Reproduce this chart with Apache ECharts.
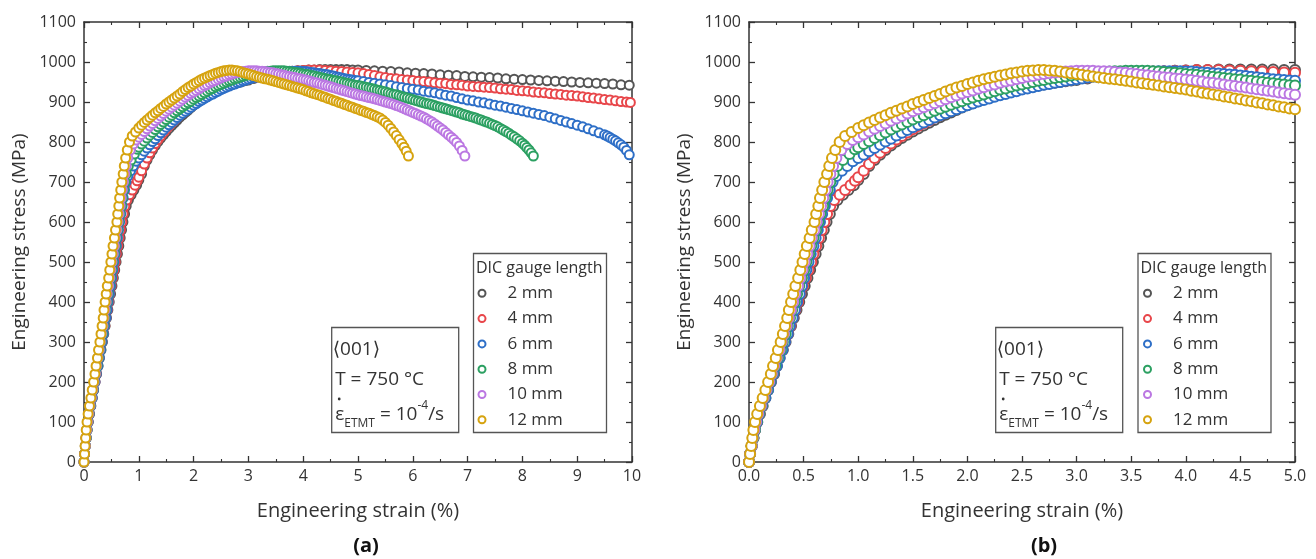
<!DOCTYPE html>
<html><head><meta charset="utf-8">
<script src="https://cdn.jsdelivr.net/npm/echarts@6/dist/echarts.min.js"></script>
<style>html,body{margin:0;padding:0;background:#fff}#c{width:1316px;height:559px}</style>
</head><body><div id="c"></div>
<script>
// ---------- DATA ----------
const seriesNames = ['2 mm', '4 mm', '6 mm', '8 mm', '10 mm', '12 mm'];
const xTickLabelsA = ['0','1','2','3','4','5','6','7','8','9','10'];
const xTickLabelsB = ['0.0','0.5','1.0','1.5','2.0','2.5','3.0','3.5','4.0','4.5','5.0'];
const yTickLabels = ['0','100','200','300','400','500','600','700','800','900','1000','1100'];

// [engineering strain (%), engineering stress (MPa)]
const gauge2mm = [[0,0],[0.01,20],[0.025,40],[0.04,60],[0.055,80],[0.075,100],[0.1,120],[0.125,140],[0.15,160],[0.175,180],[0.2,200],[0.23,220],[0.255,240],[0.28,260],[0.31,280],[0.335,300],[0.36,320],[0.385,340],[0.41,360],[0.435,380],[0.46,400],[0.485,420],[0.51,440],[0.535,460],[0.56,480],[0.585,500],[0.61,520],[0.635,540],[0.66,560],[0.685,580],[0.71,600],[0.74,620],[0.77,640],[0.81,655],[0.86,668],[0.91,680],[0.96,692],
[1.0,705],[1.05,720],[1.1,740],[1.15,755],[1.2,768],[1.25,780],[1.3,791],[1.35,801],[1.4,810],[1.45,818],[1.5,826],[1.55,834],[1.6,841],[1.65,848],[1.7,855],[1.75,862],[1.8,868],[1.85,874],[1.9,880],[1.95,886],[2.0,892],[2.05,897],[2.1,902],[2.15,907],[2.2,911],[2.25,915],[2.3,919],[2.35,923],[2.4,927],[2.45,930],[2.5,933],[2.55,936],[2.6,939],[2.65,941],[2.7,944],[2.75,946],[2.8,948],[2.85,950],[2.9,952],[2.95,954],[3.0,955],[3.1,959],[3.2,962],[3.3,965],[3.4,968],[3.5,971],[3.6,973],[3.7,975],[3.8,976],[3.9,978],[4.0,979],[4.1,980],[4.2,980],[4.3,981],[4.4,981],[4.5,981],[4.6,981],[4.7,981],[4.8,981],[4.9,980],[5.0,980],[5.15,979],[5.3,978],[5.45,977],[5.6,976],[5.75,975],[5.9,973],[6.05,972],[6.2,971],[6.35,970],[6.5,968],[6.65,967],[6.8,966],[6.95,964],[7.1,963],[7.25,962],[7.4,961],[7.55,960],[7.7,958],[7.85,957],[8.0,956],[8.15,955],[8.3,954],[8.45,953],[8.6,952],[8.75,951],[8.9,950],[9.05,949],[9.2,948],[9.35,947],[9.5,946],[9.65,945],[9.8,943],[9.95,942]];

const gauge4mm = [[0,0],[0.01,20],[0.025,40],[0.04,60],[0.055,80],[0.075,100],[0.095,120],[0.12,140],[0.145,160],[0.17,180],[0.2,200],[0.225,220],[0.25,240],[0.275,260],[0.3,280],[0.33,300],[0.355,320],[0.38,340],[0.4,360],[0.425,380],[0.45,400],[0.47,420],[0.495,440],[0.52,460],[0.545,480],[0.57,500],[0.59,520],[0.615,540],[0.64,560],[0.665,580],[0.69,600],[0.715,620],[0.745,640],[0.78,655],[0.83,668],[0.88,680],[0.93,692],[0.97,703],
[1.0,712],[1.05,728],[1.1,745],[1.15,760],[1.2,773],[1.25,785],[1.3,796],[1.35,806],[1.4,815],[1.45,824],[1.5,832],[1.55,840],[1.6,847],[1.65,854],[1.7,861],[1.75,867],[1.8,873],[1.85,879],[1.9,885],[1.95,890],[2.0,895],[2.05,900],[2.1,905],[2.15,909],[2.2,913],[2.25,917],[2.3,921],[2.35,925],[2.4,928],[2.45,931],[2.5,935],[2.55,938],[2.6,940],[2.65,943],[2.7,945],[2.75,948],[2.8,950],[2.85,952],[2.9,954],[2.95,956],[3.0,958],[3.1,961],[3.2,964],[3.3,967],[3.4,970],[3.5,972],[3.6,974],[3.7,976],[3.8,977],[3.9,978],[4.0,979],[4.1,980],[4.2,980],[4.3,980],[4.4,979],[4.5,978],[4.6,977],[4.7,976],[4.8,975],[4.9,974],[5.0,973],[5.1,971],[5.2,969],[5.3,966],[5.4,963],[5.5,961],[5.6,959],[5.7,958],[5.8,956],[5.9,955],[6.0,954],[6.1,952],[6.2,951],[6.3,950],[6.4,948],[6.5,947],[6.6,946],[6.7,944],[6.8,943],[6.9,942],[7.0,940],[7.1,939],[7.2,938],[7.3,937],[7.4,936],[7.5,935],[7.6,933],[7.7,932],[7.8,931],[7.9,929],[8.0,928],[8.1,927],[8.2,925],[8.3,924],[8.4,923],[8.5,921],[8.6,920],[8.7,919],[8.8,917],[8.9,916],[9.0,915],[9.1,913],[9.2,911],[9.3,910],[9.4,908],[9.5,906],[9.6,905],[9.7,903],[9.8,901],[9.9,900],[9.97,899]];

const gauge6mm = [[0,0],[0.01,20],[0.025,40],[0.04,60],[0.055,80],[0.075,100],[0.095,120],[0.12,140],[0.15,160],[0.175,180],[0.2,200],[0.225,220],[0.255,240],[0.28,260],[0.305,280],[0.33,300],[0.355,320],[0.375,340],[0.4,360],[0.42,380],[0.44,400],[0.465,420],[0.485,440],[0.505,460],[0.525,480],[0.545,500],[0.565,520],[0.59,540],[0.61,560],[0.63,580],[0.65,600],[0.67,620],[0.695,640],[0.715,660],[0.74,680],[0.765,700],[0.8,715],[0.85,728],[0.9,740],[0.95,752],
[1.0,760],[1.05,768],[1.1,777],[1.15,785],[1.2,793],[1.25,801],[1.3,808],[1.35,816],[1.4,823],[1.45,830],[1.5,837],[1.55,843],[1.6,849],[1.65,855],[1.7,861],[1.75,867],[1.8,872],[1.85,877],[1.9,882],[1.95,887],[2.0,892],[2.05,896],[2.1,901],[2.15,905],[2.2,909],[2.25,913],[2.3,917],[2.35,920],[2.4,924],[2.45,927],[2.5,931],[2.55,934],[2.6,937],[2.65,940],[2.7,943],[2.75,945],[2.8,948],[2.85,950],[2.9,953],[2.95,955],[3.0,957],[3.05,959],[3.1,961],[3.15,963],[3.2,965],[3.25,967],[3.3,968],[3.35,970],[3.4,971],[3.45,972],[3.5,973],[3.55,974],[3.6,975],[3.65,976],[3.7,976],[3.75,977],[3.8,977],[3.85,977],[3.9,977],[3.95,977],[4.0,976],[4.05,976],[4.1,975],[4.15,974],[4.2,973],[4.25,972],[4.3,971],[4.35,970],[4.4,969],[4.45,968],[4.5,966],[4.55,965],[4.6,963],[4.65,962],[4.7,960],[4.75,959],[4.8,957],[4.85,956],[4.9,955],[4.95,954],[5.0,953],[5.1,951],[5.2,949],[5.3,947],[5.4,945],[5.5,943],[5.6,941],[5.7,938],[5.8,936],[5.9,934],[6.0,932],[6.1,930],[6.2,927],[6.3,925],[6.4,923],[6.5,920],[6.6,917],[6.7,915],[6.8,911],[6.9,908],[7.0,905],[7.1,903],[7.2,900],[7.3,898],[7.4,895],[7.5,892],[7.6,890],[7.7,887],[7.8,884],[7.9,881],[8.0,878],[8.1,875],[8.2,872],[8.3,869],[8.4,866],[8.5,862],[8.6,858],[8.7,854],[8.8,850],[8.9,846],[9.0,842],[9.1,838],[9.2,833],[9.3,828],[9.4,823],[9.5,818],[9.55,815],[9.6,811],[9.65,807],[9.7,803],[9.75,798],[9.8,793],[9.85,787],[9.9,779],[9.95,768]];

const gauge8mm = [[0,0],[0.01,20],[0.025,40],[0.04,60],[0.055,80],[0.07,100],[0.09,120],[0.115,140],[0.14,160],[0.165,180],[0.19,200],[0.215,220],[0.24,240],[0.265,260],[0.29,280],[0.31,300],[0.335,320],[0.355,340],[0.375,360],[0.395,380],[0.42,400],[0.44,420],[0.46,440],[0.485,460],[0.505,480],[0.525,500],[0.55,520],[0.57,540],[0.59,560],[0.615,580],[0.635,600],[0.655,620],[0.68,640],[0.7,660],[0.72,680],[0.745,700],[0.775,720],[0.81,740],[0.86,755],[0.92,770],[0.97,782],
[1.0,787],[1.05,795],[1.1,802],[1.15,810],[1.2,817],[1.25,824],[1.3,831],[1.35,838],[1.4,844],[1.45,850],[1.5,856],[1.55,862],[1.6,867],[1.65,873],[1.7,878],[1.75,883],[1.8,888],[1.85,893],[1.9,898],[1.95,902],[2.0,907],[2.05,911],[2.1,915],[2.15,919],[2.2,923],[2.25,927],[2.3,931],[2.35,934],[2.4,938],[2.45,941],[2.5,944],[2.55,947],[2.6,950],[2.65,953],[2.7,955],[2.75,958],[2.8,960],[2.85,962],[2.9,964],[2.95,966],[3.0,968],[3.05,970],[3.1,971],[3.15,973],[3.2,974],[3.25,975],[3.3,976],[3.35,977],[3.4,977],[3.45,978],[3.5,978],[3.55,978],[3.6,978],[3.65,978],[3.7,977],[3.75,976],[3.8,975],[3.85,974],[3.9,973],[3.95,972],[4.0,970],[4.05,969],[4.1,968],[4.15,966],[4.2,965],[4.25,963],[4.3,962],[4.35,960],[4.4,959],[4.45,957],[4.5,956],[4.55,954],[4.6,953],[4.65,951],[4.7,950],[4.75,948],[4.8,947],[4.85,945],[4.9,944],[4.95,942],[5.0,941],[5.05,940],[5.1,938],[5.15,937],[5.2,935],[5.25,934],[5.3,932],[5.35,930],[5.4,929],[5.45,927],[5.5,925],[5.55,923],[5.6,921],[5.65,919],[5.7,918],[5.75,916],[5.8,914],[5.85,912],[5.9,910],[5.95,908],[6.0,906],[6.05,904],[6.1,902],[6.15,900],[6.2,898],[6.25,896],[6.3,895],[6.35,893],[6.4,891],[6.45,889],[6.5,887],[6.55,885],[6.6,883],[6.65,881],[6.7,879],[6.75,877],[6.8,875],[6.85,873],[6.9,870],[6.95,868],[7.0,866],[7.05,864],[7.1,862],[7.15,860],[7.2,857],[7.25,855],[7.3,852],[7.35,850],[7.4,847],[7.45,844],[7.5,841],[7.55,838],[7.6,834],[7.65,830],[7.7,826],[7.75,822],[7.8,817],[7.85,813],[7.9,808],[7.95,803],[8.0,797],[8.04,792],[8.08,786],[8.12,780],[8.16,773],[8.2,765]];

const gauge10mm = [[0,0],[0.01,20],[0.025,40],[0.035,60],[0.05,80],[0.065,100],[0.085,120],[0.11,140],[0.135,160],[0.16,180],[0.185,200],[0.21,220],[0.23,240],[0.255,260],[0.28,280],[0.3,300],[0.32,320],[0.345,340],[0.365,360],[0.385,380],[0.405,400],[0.425,420],[0.45,440],[0.47,460],[0.49,480],[0.51,500],[0.535,520],[0.555,540],[0.575,560],[0.6,580],[0.62,600],[0.64,620],[0.66,640],[0.68,660],[0.7,680],[0.72,700],[0.745,720],[0.77,740],[0.8,760],[0.845,780],[0.9,795],[0.95,805],
[1.0,812],[1.05,819],[1.1,826],[1.15,833],[1.2,840],[1.25,846],[1.3,853],[1.35,859],[1.4,865],[1.45,871],[1.5,877],[1.55,882],[1.6,887],[1.65,892],[1.7,897],[1.75,902],[1.8,907],[1.85,912],[1.9,916],[1.95,921],[2.0,925],[2.05,929],[2.1,933],[2.15,937],[2.2,941],[2.25,944],[2.3,948],[2.35,951],[2.4,954],[2.45,957],[2.5,960],[2.55,963],[2.6,965],[2.65,968],[2.7,970],[2.75,972],[2.8,974],[2.85,975],[2.9,976],[2.95,977],[3.0,978],[3.05,978],[3.1,978],[3.15,978],[3.2,977],[3.25,977],[3.3,976],[3.35,975],[3.4,974],[3.45,973],[3.5,971],[3.55,970],[3.6,968],[3.65,967],[3.7,965],[3.75,964],[3.8,962],[3.85,961],[3.9,959],[3.95,958],[4.0,956],[4.05,955],[4.1,953],[4.15,951],[4.2,949],[4.25,948],[4.3,946],[4.35,944],[4.4,942],[4.45,940],[4.5,938],[4.55,936],[4.6,934],[4.65,932],[4.7,930],[4.75,928],[4.8,926],[4.85,924],[4.9,922],[4.95,920],[5.0,918],[5.05,916],[5.1,915],[5.15,913],[5.2,911],[5.25,910],[5.3,908],[5.35,906],[5.4,904],[5.45,902],[5.5,900],[5.55,898],[5.6,896],[5.65,894],[5.7,891],[5.75,889],[5.8,886],[5.85,883],[5.9,880],[5.95,877],[6.0,874],[6.05,871],[6.1,868],[6.15,865],[6.2,862],[6.25,858],[6.3,854],[6.35,850],[6.4,845],[6.45,840],[6.5,835],[6.55,830],[6.6,824],[6.65,818],[6.7,812],[6.75,806],[6.8,799],[6.85,790],[6.9,779],[6.95,765]];

const gauge12mm = [[0,0],[0.01,20],[0.02,40],[0.03,60],[0.04,80],[0.055,100],[0.075,120],[0.1,140],[0.125,160],[0.15,180],[0.175,200],[0.2,220],[0.22,240],[0.245,260],[0.265,280],[0.29,300],[0.31,320],[0.33,340],[0.35,360],[0.365,380],[0.385,400],[0.405,420],[0.425,440],[0.45,460],[0.47,480],[0.49,500],[0.51,520],[0.53,540],[0.555,560],[0.575,580],[0.6,600],[0.615,620],[0.635,640],[0.65,660],[0.67,680],[0.69,700],[0.715,720],[0.735,740],[0.76,760],[0.79,780],[0.83,800],[0.88,815],[0.94,825],
[1.0,835],[1.05,842],[1.1,849],[1.15,855],[1.2,861],[1.25,867],[1.3,873],[1.35,878],[1.4,884],[1.45,889],[1.5,895],[1.55,900],[1.6,905],[1.65,910],[1.7,915],[1.75,920],[1.8,926],[1.85,931],[1.9,936],[1.95,940],[2.0,945],[2.05,949],[2.1,953],[2.15,957],[2.2,960],[2.25,963],[2.3,966],[2.35,969],[2.4,972],[2.45,974],[2.5,976],[2.55,978],[2.6,979],[2.65,980],[2.7,980],[2.75,979],[2.8,978],[2.85,976],[2.9,974],[2.95,972],[3.0,970],[3.05,968],[3.1,966],[3.15,964],[3.2,962],[3.25,960],[3.3,958],[3.35,957],[3.4,955],[3.45,953],[3.5,951],[3.55,949],[3.6,947],[3.65,945],[3.7,943],[3.75,941],[3.8,939],[3.85,937],[3.9,935],[3.95,933],[4.0,931],[4.05,928],[4.1,926],[4.15,923],[4.2,921],[4.25,919],[4.3,917],[4.35,914],[4.4,912],[4.45,909],[4.5,907],[4.55,904],[4.6,902],[4.65,899],[4.7,897],[4.75,894],[4.8,892],[4.85,889],[4.9,887],[4.95,884],[5.0,882],[5.05,879],[5.1,877],[5.15,874],[5.2,872],[5.25,869],[5.3,866],[5.35,863],[5.4,860],[5.45,855],[5.5,849],[5.55,842],[5.6,834],[5.65,825],[5.7,816],[5.75,806],[5.8,796],[5.84,787],[5.88,777],[5.92,765]];

const seriesData = [gauge2mm, gauge4mm, gauge6mm, gauge8mm, gauge10mm, gauge12mm];
const seriesColors = ['#555555', '#e8464a', '#2e6fc7', '#2ca062', '#bb77e2', '#d6a30f'];

// ---------- CHART ----------
const FONT = '"Open Sans", "DejaVu Sans", sans-serif';
const AX = '#333';
const chart = echarts.init(document.getElementById('c'), null, {renderer: 'canvas'});

const grids = [
  {left: 84, top: 22, width: 548, height: 440},
  {left: 749, top: 22, width: 546, height: 440}
];
const xRanges = [{max: 10, interval: 1, labels: xTickLabelsA}, {max: 5, interval: 0.5, labels: xTickLabelsB}];

const xAxes = [], yAxes = [];
grids.forEach((g, gi) => {
  const r = xRanges[gi];
  const common = {
    gridIndex: gi, type: 'value', min: 0, splitLine: {show: false},
    axisLine: {show: true, onZero: false, lineStyle: {color: AX, width: 1.5}},
    axisTick: {show: true, inside: true, length: 6, lineStyle: {color: AX, width: 1.3}},
    minorTick: {show: true, splitNumber: 2, length: 3, lineStyle: {color: AX, width: 1.1}},
    minorSplitLine: {show: false}
  };
  xAxes.push(Object.assign({}, common, {
    position: 'bottom', max: r.max, interval: r.interval,
    axisLabel: {show: true, margin: 6, fontSize: 16, color: AX, fontFamily: FONT,
      formatter: v => r.labels[Math.round(v / r.interval)]},
    name: 'Engineering strain (%)', nameLocation: 'middle', nameGap: 39,
    nameTextStyle: {fontSize: 20, color: AX, fontFamily: FONT}
  }));
  xAxes.push(Object.assign({}, common, {
    position: 'top', max: r.max, interval: r.interval, axisLabel: {show: false}
  }));
  yAxes.push(Object.assign({}, common, {
    position: 'left', max: 1100, interval: 100,
    axisLabel: {show: true, margin: 8, fontSize: 16, color: AX, fontFamily: FONT,
      formatter: v => yTickLabels[Math.round(v / 100)]},
    name: 'Engineering stress (MPa)', nameLocation: 'middle', nameGap: 55,
    nameTextStyle: {fontSize: 19, color: AX, fontFamily: FONT}
  }));
  yAxes.push(Object.assign({}, common, {
    position: 'right', max: 1100, interval: 100, axisLabel: {show: false}
  }));
});

const series = [];
[0, 1].forEach(p => {
  seriesNames.forEach((n, i) => {
    series.push({
      type: 'scatter', name: n, xAxisIndex: p * 2, yAxisIndex: p * 2,
      data: seriesData[i], symbol: 'emptyCircle', symbolSize: p === 0 ? 9 : 10,
      clip: true, silent: true,
      itemStyle: {color: seriesColors[i], borderColor: seriesColors[i], borderWidth: 1.7, opacity: 1}
    });
  });
});

// legend + annotation boxes (layout only)
const legendLefts = [473.5, 1138];
const annoLefts = [331.7, 995.7];
const graphics = [];
legendLefts.forEach(L => {
  graphics.push({type: 'rect', shape: {x: L, y: 253.5, width: 133, height: 179},
    style: {fill: 'none', stroke: '#555', lineWidth: 1.3}, z: 100});
  graphics.push({type: 'text', x: L + 2.5, y: 268,
    style: {text: 'DIC gauge length', font: '16px ' + FONT, fill: AX, verticalAlign: 'middle'}, z: 100});
});
annoLefts.forEach(L => {
  graphics.push({type: 'rect', shape: {x: L, y: 327.5, width: 127, height: 105},
    style: {fill: '#fff', stroke: '#555', lineWidth: 1.3}, z: 100});
  graphics.push({type: 'text', x: L + 1, y: 350,
    style: {text: '\u27E8001\u27E9', font: '19px ' + FONT, fill: AX, verticalAlign: 'middle'}, z: 100});
  graphics.push({type: 'text', x: L + 3.5, y: 380,
    style: {text: 'T = 750 \u00B0C', font: '19px ' + FONT, fill: AX, verticalAlign: 'middle'}, z: 100});
  graphics.push({type: 'text', x: L + 3.5, y: 415,
    style: {text: '{n|\u03B5}{sub|ETMT}{n| = 10}{sup|-4}{n|/s}', verticalAlign: 'middle', fill: AX,
      rich: {
        n: {fontSize: 19, lineHeight: 30, fontFamily: FONT, color: AX},
        sub: {fontSize: 12, lineHeight: 13, fontFamily: FONT, color: AX, verticalAlign: 'bottom'},
        sup: {fontSize: 12, lineHeight: 13, fontFamily: FONT, color: AX, verticalAlign: 'top'}
      }}, z: 100});
  graphics.push({type: 'circle', shape: {cx: L + 7.5, cy: 399, r: 1.4}, style: {fill: AX}, z: 100});
});
graphics.push({type: 'text', x: 366, y: 546,
  style: {text: '(a)', font: 'bold 20px ' + FONT, fill: '#111', align: 'center', verticalAlign: 'middle'}});
graphics.push({type: 'text', x: 1044, y: 546,
  style: {text: '(b)', font: 'bold 20px ' + FONT, fill: '#111', align: 'center', verticalAlign: 'middle'}});

const legends = [477.5, 1143].map(L => ({
  data: seriesNames, orient: 'vertical', left: L, top: 284.3, padding: 0,
  itemWidth: 41, itemHeight: 7, itemGap: 7.3, icon: 'emptyCircle', selectedMode: false,
  itemStyle: {borderWidth: 1.2},
  textStyle: {fontSize: 17, lineHeight: 18, color: AX, fontFamily: FONT}, z: 110
}));

chart.setOption({
  animation: false,
  backgroundColor: '#fff',
  grid: grids,
  xAxis: xAxes,
  yAxis: yAxes,
  legend: legends,
  series: series,
  graphic: graphics
});
</script></body></html>
